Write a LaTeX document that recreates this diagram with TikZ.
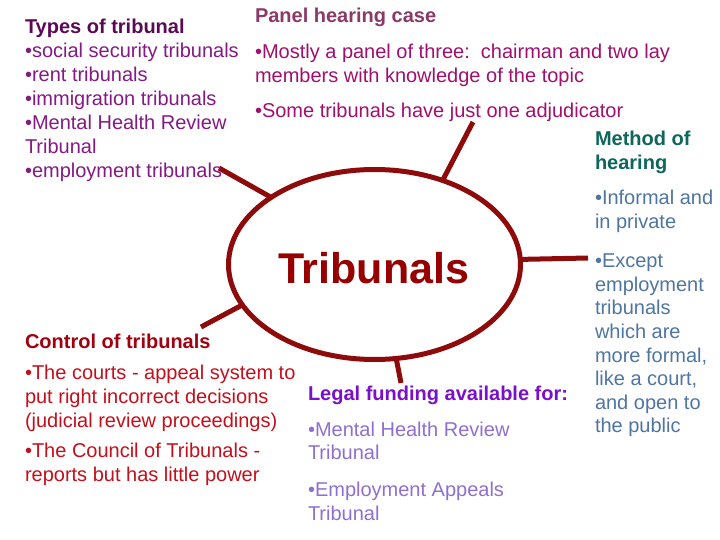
\documentclass[tikz,border=0pt]{standalone}
\usepackage{fontspec}
\setmainfont{Liberation Sans}
\usetikzlibrary{shapes.geometric}
\definecolor{linered}{HTML}{8E0B0B}
\definecolor{titlered}{HTML}{960000}
\definecolor{typeshead}{HTML}{5A0A55}
\definecolor{typestext}{HTML}{841A84}
\definecolor{panelhead}{HTML}{8A3A68}
\definecolor{paneltext}{HTML}{A0106E}
\definecolor{methodhead}{HTML}{0F665C}
\definecolor{methodtext}{HTML}{4F76A0}
\definecolor{controlhead}{HTML}{A00010}
\definecolor{controltext}{HTML}{C4101C}
\definecolor{legalhead}{HTML}{7A10C8}
\definecolor{legaltext}{HTML}{8F70D0}
\begin{document}
\begin{tikzpicture}[x=1pt,y=-1pt,
  every node/.style={inner sep=0pt, outer sep=0pt, anchor=base west},
  txt/.style={font=\fontsize{20}{24}\selectfont},
  hd/.style={font=\fontsize{20}{24}\selectfont\bfseries},
  spoke/.style={draw=linered, line width=5pt}]
\useasboundingbox[fill=white] (0,0) rectangle (720,540);

% central ellipse
\node[draw=linered, line width=5pt, ellipse, minimum width=292pt, minimum height=190pt, anchor=center] (ell) at (374.5,264.5) {};
\node[font=\fontsize{43}{50}\selectfont\bfseries, text=titlered] (title) at (278,283) {Tribunals};

% free ends of connectors
\coordinate (c1) at (219,168);
\coordinate (c2) at (473,122);
\coordinate (c3) at (588,258);
\coordinate (c4) at (201,327);
\coordinate (c5) at (401,383);

\draw[spoke] (ell.147) -- (c1);
\draw[spoke] (ell.51) -- (c2);
\draw[spoke] (ell.2.5) -- (c3);
\draw[spoke] (ell.197) -- (c4);
\draw[spoke] (ell.283) -- (c5);

% Types of tribunal
\node[hd, text=typeshead] (t0) at (25,34) {Types of tribunal};
\node[txt, text=typestext] (t1) at (25,58) {•social security tribunals};
\node[txt, text=typestext] (t2) at (25,82) {•rent tribunals};
\node[txt, text=typestext] (t3) at (25,106) {•immigration tribunals};
\node[txt, text=typestext] (t4) at (25,130) {•Mental Health Review};
\node[txt, text=typestext] (t5) at (25,154) {Tribunal};
\node[txt, text=typestext] (t6) at (25,178) {•employment tribunals};

% Panel hearing case
\node[hd, text=panelhead] (p0) at (255,23) {Panel hearing case};
\node[txt, text=paneltext] (p1) at (255,59) {•Mostly a panel of three:\ \ chairman and two lay};
\node[txt, text=paneltext] (p2) at (255,83) {members with knowledge of the topic};
\node[txt, text=paneltext] (p3) at (255,118) {•Some tribunals have just one adjudicator};

% Method of hearing
\node[hd, text=methodhead] (m0) at (595,146) {Method of};
\node[hd, text=methodhead] (m1) at (595,170) {hearing};
\node[txt, text=methodtext] (m2) at (595,205) {•Informal and};
\node[txt, text=methodtext] (m3) at (595,229) {in private};
\node[txt, text=methodtext] (m4) at (595,267) {•Except};
\node[txt, text=methodtext] (m5) at (595,291) {employment};
\node[txt, text=methodtext] (m6) at (595,314) {tribunals};
\node[txt, text=methodtext] (m7) at (595,338) {which are};
\node[txt, text=methodtext] (m8) at (595,362) {more formal,};
\node[txt, text=methodtext] (m9) at (595,385) {like a court,};
\node[txt, text=methodtext] (m10) at (595,409) {and open to};
\node[txt, text=methodtext] (m11) at (595,432) {the public};

% Control of tribunals
\node[hd, text=controlhead] (k0) at (25,348) {Control of tribunals};
\node[txt, text=controltext] (k1) at (25,379) {•The courts - appeal system to};
\node[txt, text=controltext] (k2) at (25,403) {put right incorrect decisions};
\node[txt, text=controltext] (k3) at (25,427) {(judicial review proceedings)};
\node[txt, text=controltext] (k4) at (25,457) {•The Council of Tribunals -};
\node[txt, text=controltext] (k5) at (25,481) {reports but has little power};

% Legal funding
\node[hd, text=legalhead] (l0) at (308,400) {Legal funding available for:};
\node[txt, text=legaltext] (l1) at (308,436) {•Mental Health Review};
\node[txt, text=legaltext] (l2) at (308,459) {Tribunal};
\node[txt, text=legaltext] (l3) at (308,496) {•Employment Appeals};
\node[txt, text=legaltext] (l4) at (308,520) {Tribunal};
\end{tikzpicture}
\end{document}
